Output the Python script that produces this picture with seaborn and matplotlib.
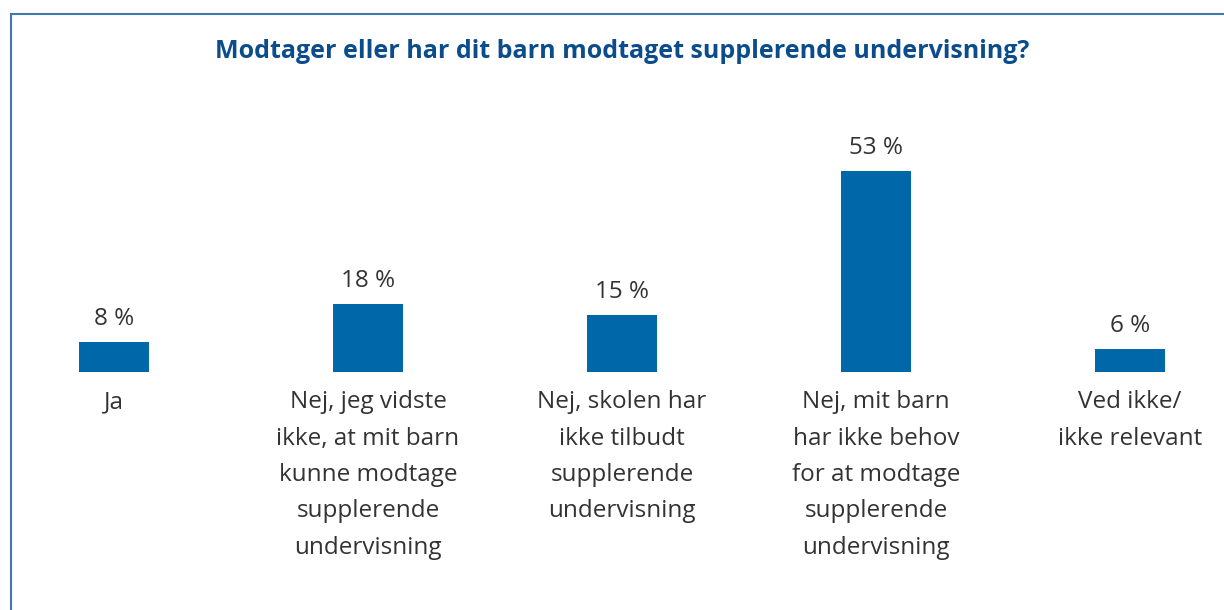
import pandas as pd
import matplotlib.pyplot as plt
import seaborn as sns

categories = [
    'Ja',
    'Nej, jeg vidste\nikke, at mit barn\nkunne modtage\nsupplerende\nundervisning',
    'Nej, skolen har\nikke tilbudt\nsupplerende\nundervisning',
    'Nej, mit barn\nhar ikke behov\nfor at modtage\nsupplerende\nundervisning',
    'Ved ikke/\nikke relevant',
]
values = [8, 18, 15, 53, 6]
value_labels = ['8 %', '18 %', '15 %', '53 %', '6 %']

title = 'Modtager eller har dit barn modtaget supplerende undervisning?'

bar_color = '#0068A9'
title_color = '#0B4C8C'
frame_color = '#4477AA'
text_color = '#333333'

sns.set_theme(style='white')
plt.rcParams['font.family'] = ['Open Sans', 'DejaVu Sans']

df = pd.DataFrame({'cat': categories, 'val': values})

fig = plt.figure(figsize=(12.24, 6.1), dpi=100)
# axes box doubles as the frame around the chart
ax = fig.add_axes([11 / 1224, 0, 1213 / 1224, (610 - 14) / 610])

sns.barplot(data=df, x='cat', y='val', ax=ax, color=bar_color,
            saturation=1, width=0.276, edgecolor='none')

ax.set_xlim(-0.4055, 4.370)
ax.set_ylim(-62.8, 94.5)
ax.set_xticks([])
ax.set_yticks([])
ax.set_xlabel('')
ax.set_ylabel('')

for side in ['right', 'bottom']:
    ax.spines[side].set_visible(False)
for side in ['left', 'top']:
    ax.spines[side].set_color(frame_color)
    ax.spines[side].set_linewidth(1.5)

for i, (v, lab) in enumerate(zip(values, value_labels)):
    ax.annotate(lab, (i, v), xytext=(0, 8), textcoords='offset points',
                ha='center', va='bottom', fontsize=17.5, color=text_color)
    ax.annotate(categories[i], (i, 0), xytext=(0, -13), textcoords='offset points',
                ha='center', va='top', fontsize=17.5, color=text_color,
                linespacing=1.69)

fig.text(622 / 1224, 1 - 51 / 610, title, ha='center', va='center',
         fontsize=18, fontweight='bold', color=title_color)

fig.savefig('out.png', dpi=100)
